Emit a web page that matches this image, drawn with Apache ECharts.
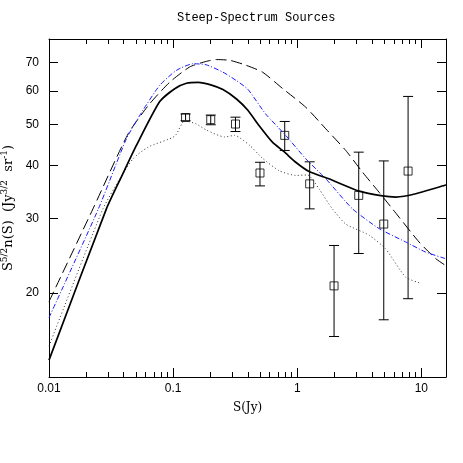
<!DOCTYPE html>
<html>
<head>
<meta charset="utf-8">
<script src="https://cdn.jsdelivr.net/npm/echarts@6/dist/echarts.min.js"></script>
<style>
  html, body { margin: 0; padding: 0; background: #fff; }
  #chart { width: 463px; height: 463px; }
</style>
</head>
<body>
<div id="chart"></div>
<script>
// model curves (S in Jy, value in Jy^3/2 sr^-1)
const solidS = [0.01, 0.029, 0.0383, 0.0506, 0.078, 0.103, 0.128, 0.159, 0.204, 0.252, 0.324, 0.40, 0.492, 0.631, 0.783, 0.973, 1.245, 1.80, 3.15, 4.86, 6.23, 9.02, 15.8];
const solidV = [13.9, 31.6, 37.6, 44.6, 56.6, 60.7, 62.5, 62.8, 61.9, 60.4, 57.4, 54.0, 49.7, 45.4, 43.1, 40.7, 38.7, 37.2, 34.8, 33.9, 33.7, 34.3, 36.0];

const dashS = [0.01, 0.0226, 0.0434, 0.0647, 0.094, 0.136, 0.185, 0.223, 0.286, 0.378, 0.525, 0.760, 1.17, 1.70, 2.46, 3.35, 4.56, 5.85, 9.58, 13.1, 15.8];
const dashV = [19.1, 31.6, 47.5, 55.9, 62.9, 68.3, 70.4, 71.1, 70.8, 69.1, 66.4, 60.8, 54.9, 48.8, 43.4, 38.6, 34.6, 31.6, 26.4, 24.1, 23.2];

const blueS = [0.01, 0.025, 0.042, 0.0572, 0.078, 0.106, 0.145, 0.185, 0.252, 0.324, 0.40, 0.557, 0.807, 1.17, 1.70, 2.79, 4.56, 7.48, 10.8, 15.8];
const blueV = [17.5, 31.6, 46.2, 54.0, 61.8, 67.0, 69.5, 69.1, 66.4, 63.4, 60.5, 52.9, 47.1, 41.5, 37.2, 31.6, 28.4, 26.4, 25.0, 24.1];

const dotS = [0.01, 0.0272, 0.0372, 0.0476, 0.0628, 0.103, 0.124, 0.154, 0.185, 0.26, 0.313, 0.414, 0.525, 0.713, 0.97, 1.21, 1.50, 1.92, 2.46, 3.79, 5.17, 7.48, 9.89];
const dotV = [15.0, 31.6, 37.2, 41.5, 44.2, 46.9, 51.0, 50.1, 48.5, 46.7, 47.1, 44.6, 41.6, 38.9, 37.9, 38.0, 35.2, 31.6, 29.1, 27.4, 25.4, 21.8, 21.1];

// measured counts with error bars
const errS  = [0.126, 0.201, 0.318, 0.501, 0.793, 1.26, 1.98, 3.13, 4.98, 7.82];
const errV  = [51.9, 51.3, 50.1, 38.4, 47.1, 36.2, 20.8, 34.0, 29.1, 38.8];
const errLo = [51.0, 49.9, 48.1, 35.8, 43.4, 31.6, 15.8, 24.8, 17.3, 19.4];
const errHi = [52.9, 52.6, 52.0, 40.7, 50.8, 40.8, 25.9, 43.0, 41.0, 58.2];

// tick labels
const xMajor = [0.01, 0.1, 1, 10];
const xMajorLabels = ['0.01', '0.1', '1', '10'];
const xMinor = [0.02, 0.03, 0.04, 0.05, 0.06, 0.07, 0.08, 0.09,
                0.2, 0.3, 0.4, 0.5, 0.6, 0.7, 0.8, 0.9,
                2, 3, 4, 5, 6, 7, 8, 9];
const yMajor = [20, 30, 40, 50, 60, 70];

const lg = Math.log10;
const pairs = (xs, ys) => xs.map((x, i) => [lg(x), lg(ys[i])]);

const xMin = -2, xMax = lg(15.8);
const yMin = lg(12.68), yMax = lg(79.5);

const frame = { show: true, onZero: false, lineStyle: { color: '#000', width: 1 } };
const noLine = { show: false, onZero: false };
const labelFont = { fontFamily: 'Liberation Sans', fontSize: 12, color: '#000' };

function pick(v, vals, labels) {
  for (let i = 0; i < vals.length; i++) {
    if (Math.abs(lg(vals[i]) - v) < 1e-6) return labels[i];
  }
  return '';
}

function xAx(pos, vals, len, withLine) {
  return {
    type: 'value', position: pos, min: xMin, max: xMax,
    axisLine: withLine ? frame : noLine,
    axisTick: { show: true, inside: true, length: len, customValues: vals.map(lg),
                lineStyle: { color: '#000', width: 1 } },
    axisLabel: { show: false },
    splitLine: { show: false }
  };
}

const xAxes = [
  Object.assign(xAx('bottom', xMajor, 9, true), {
    axisLabel: Object.assign({
      show: true, margin: 6, customValues: xMajor.map(lg),
      formatter: v => pick(v, xMajor, xMajorLabels)
    }, labelFont),
    name: 'S(Jy)', nameLocation: 'middle', nameGap: 25,
    nameTextStyle: { fontFamily: 'DejaVu Serif', fontSize: 12, color: '#000' }
  }),
  xAx('bottom', xMinor, 5, false),
  xAx('top', xMajor, 9, true),
  xAx('top', xMinor, 5, false)
];

const yAxes = [
  {
    type: 'value', position: 'left', min: yMin, max: yMax,
    axisLine: frame,
    axisTick: { show: true, inside: true, length: 9, customValues: yMajor.map(lg),
                lineStyle: { color: '#000', width: 1 } },
    axisLabel: Object.assign({
      show: true, margin: 10, customValues: yMajor.map(lg),
      formatter: v => pick(v, yMajor, yMajor.map(String))
    }, labelFont),
    splitLine: { show: false },
    name: '{b|S}{s|5/2}{b|n(S)  (Jy}{s|3/2}{b|  sr}{s|-1}{b|)}',
    nameLocation: 'middle', nameGap: 31,
    nameTextStyle: {
      rich: {
        b: { fontFamily: 'DejaVu Serif', fontSize: 13, color: '#000', lineHeight: 17 },
        s: { fontFamily: 'DejaVu Serif', fontSize: 9, color: '#000', lineHeight: 17, verticalAlign: 'top' }
      }
    }
  },
  {
    type: 'value', position: 'right', min: yMin, max: yMax,
    axisLine: frame,
    axisTick: { show: true, inside: true, length: 9, customValues: yMajor.map(lg),
                lineStyle: { color: '#000', width: 1 } },
    axisLabel: { show: false },
    splitLine: { show: false }
  }
];

function curve(data, lineStyle) {
  return {
    type: 'line', xAxisIndex: 0, yAxisIndex: 0,
    data: data, showSymbol: false, smooth: 0.2,
    lineStyle: lineStyle, animation: false, silent: true
  };
}

const errData = errS.map((s, i) => [lg(s), lg(errLo[i]), lg(errHi[i])]);

const chart = echarts.init(document.getElementById('chart'), null, { renderer: 'canvas' });
chart.setOption({
  animation: false,
  backgroundColor: '#fff',
  title: {
    text: 'Steep-Spectrum Sources',
    left: 172, top: 7,
    textStyle: { fontFamily: 'Liberation Mono', fontSize: 12, fontWeight: 'normal', color: '#000' }
  },
  grid: { left: 49, top: 39, width: 397, height: 338, outerBoundsMode: 'none' },
  xAxis: xAxes,
  yAxis: yAxes,
  series: [
    curve(pairs(dashS, dashV), { color: '#000', width: 1, type: [11, 5] }),
    curve(pairs(blueS, blueV), { color: '#1a1aff', width: 1, type: [5, 2, 1, 2] }),
    curve(pairs(dotS, dotV), { color: '#333', width: 1, type: [1, 2.5] }),
    curve(pairs(solidS, solidV), { color: '#000', width: 1.7 }),
    {
      type: 'custom', xAxisIndex: 0, yAxisIndex: 0,
      data: errData, encode: { x: 0, y: [1, 2] }, silent: true,
      renderItem: function (params, api) {
        const top = api.coord([api.value(0), api.value(2)]);
        const bot = api.coord([api.value(0), api.value(1)]);
        const w = 5;
        const st = { stroke: '#000', lineWidth: 1 };
        return {
          type: 'group',
          children: [
            { type: 'line', shape: { x1: top[0], y1: top[1], x2: bot[0], y2: bot[1] }, style: st },
            { type: 'line', shape: { x1: top[0] - w, y1: top[1], x2: top[0] + w, y2: top[1] }, style: st },
            { type: 'line', shape: { x1: bot[0] - w, y1: bot[1], x2: bot[0] + w, y2: bot[1] }, style: st }
          ]
        };
      }
    },
    {
      type: 'scatter', xAxisIndex: 0, yAxisIndex: 0,
      data: pairs(errS, errV), symbol: 'rect', symbolSize: 8, silent: true,
      itemStyle: { color: 'rgba(0,0,0,0)', borderColor: '#000', borderWidth: 1 }
    }
  ]
});
</script>
</body>
</html>
